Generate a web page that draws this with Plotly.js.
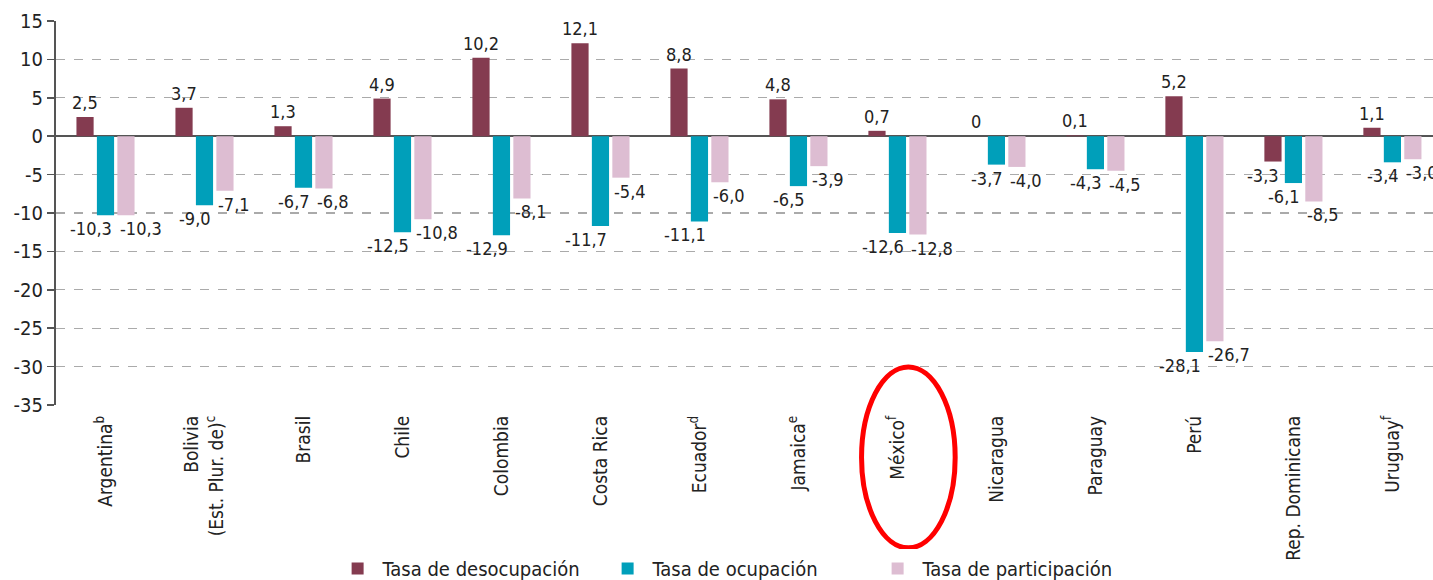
<!DOCTYPE html>
<html>
<head>
<meta charset="utf-8">
<script src="https://cdn.plot.ly/plotly-3.0.1.min.js"></script>
<style>
  html, body { margin: 0; padding: 0; background: #fff; }
  #chart { width: 1433px; height: 580px; }
</style>
</head>
<body>
<div id="chart"></div>
<script>
// === DATOS ===
const paises = [
  "Argentina<sup>b</sup>", "Bolivia<br>(Est. Plur. de)<sup>c</sup>", "Brasil", "Chile", "Colombia",
  "Costa Rica", "Ecuador<sup>d</sup>", "Jamaica<sup>e</sup>", "México<sup>f</sup>", "Nicaragua",
  "Paraguay", "Perú", "Rep. Dominicana", "Uruguay<sup>f</sup>"
];
const desocupacion  = [2.5, 3.7, 1.3, 4.9, 10.2, 12.1, 8.8, 4.8, 0.7, 0, 0.1, 5.2, -3.3, 1.1];
const ocupacion     = [-10.3, -9.0, -6.7, -12.5, -12.9, -11.7, -11.1, -6.5, -12.6, -3.7, -4.3, -28.1, -6.1, -3.4];
const participacion = [-10.3, -7.1, -6.8, -10.8, -8.1, -5.4, -6.0, -3.9, -12.8, -4.0, -4.5, -26.7, -8.5, -3.0];
const yTicks = [15, 10, 5, 0, -5, -10, -15, -20, -25, -30, -35];

const FONT = '"Liberation Sans Narrow", "DejaVu Sans Condensed", "Roboto", sans-serif';
const idx = paises.map((_, i) => i);

// etiqueta con coma decimal
const etiqueta = v => v === 0 ? "0" : v.toFixed(1).replace(".", ",");

function serie(nombre, valores, color) {
  return {
    type: "bar", name: nombre, x: idx, y: valores,
    marker: { color: color }, hoverinfo: "x+y"
  };
}

const trazas = [
  serie("Tasa de desocupación", desocupacion, "#843b50"),
  serie("Tasa de ocupación", ocupacion, "#009fba"),
  serie("Tasa de participación", participacion, "#ddbdd2")
];

// etiquetas de valor: centro de cada barra dentro del grupo (px) y alineación
const SLOT = 20.5, MEDIA = 8.5;
function etiquetas(valores, offset, alinNeg) {
  return valores.map((v, i) => {
    const neg = v < 0;
    let xanchor = "center", dx = offset;
    if (neg && alinNeg === "right") { xanchor = "right"; dx = offset + MEDIA; }
    if (neg && alinNeg === "left")  { xanchor = "left";  dx = offset - MEDIA; }
    return {
      xref: "x", yref: "y", x: i, y: v, text: etiqueta(v), showarrow: false,
      xanchor: xanchor, yanchor: neg ? "top" : "bottom",
      xshift: dx, yshift: neg ? -1 : 2,
      font: { family: FONT, size: 18, color: "#222" }
    };
  });
}
const anotaciones = [].concat(
  etiquetas(desocupacion, -SLOT, "right"),
  etiquetas(ocupacion, 0, "right"),
  etiquetas(participacion, SLOT, "left")
);

const layout = {
  width: 1433, height: 580,
  margin: { l: 56, r: 0, t: 21, b: 175 },
  paper_bgcolor: "#fff", plot_bgcolor: "#fff",
  font: { family: FONT, size: 17, color: "#222" },
  barmode: "group", bargap: 0.38, bargroupgap: 0.16,
  showlegend: true,
  legend: {
    orientation: "h", x: 0.495, xanchor: "center",
    yref: "container", y: 0.02, yanchor: "middle",
    entrywidth: 215, entrywidthmode: "pixels",
    font: { family: FONT, size: 20, color: "#222" }, itemwidth: 40
  },
  xaxis: {
    range: [-0.5, 13.41], tickvals: idx, ticktext: paises, tickangle: -90,
    ticks: "", showgrid: false, zeroline: false, showline: false, automargin: false,
    ticklabelstandoff: 6,
    tickfont: { family: FONT, size: 19, color: "#222" }
  },
  xaxis2: {
    overlaying: "x", anchor: "free", position: 0.7, range: [-0.5, 13.41],
    tickvals: idx.slice(0, -1).map(i => i + 0.5), ticks: "outside", ticklen: 8,
    tickcolor: "#555", tickwidth: 1.5, showticklabels: false, showgrid: false,
    zeroline: false, showline: false
  },
  yaxis: {
    range: [-35, 15], tickvals: yTicks, ticktext: yTicks.map(String), automargin: false,
    showline: true, linecolor: "#555", linewidth: 2,
    ticks: "outside", ticklen: 7, tickcolor: "#555", tickwidth: 1.5,
    showgrid: true, gridcolor: "#aaa", gridwidth: 1.2, griddash: "dash",
    zeroline: true, zerolinecolor: "#555", zerolinewidth: 2,
    tickfont: { family: FONT, size: 20, color: "#222" }
  },
  annotations: anotaciones,
  shapes: [{
    type: "circle", xref: "paper", yref: "paper",
    x0: 0.585, x1: 0.653, y0: -0.372, y1: 0.099,
    line: { color: "#f00", width: 5 }
  }]
};

Plotly.newPlot("chart", trazas, layout, { displayModeBar: false, staticPlot: true });
</script>
</body>
</html>
